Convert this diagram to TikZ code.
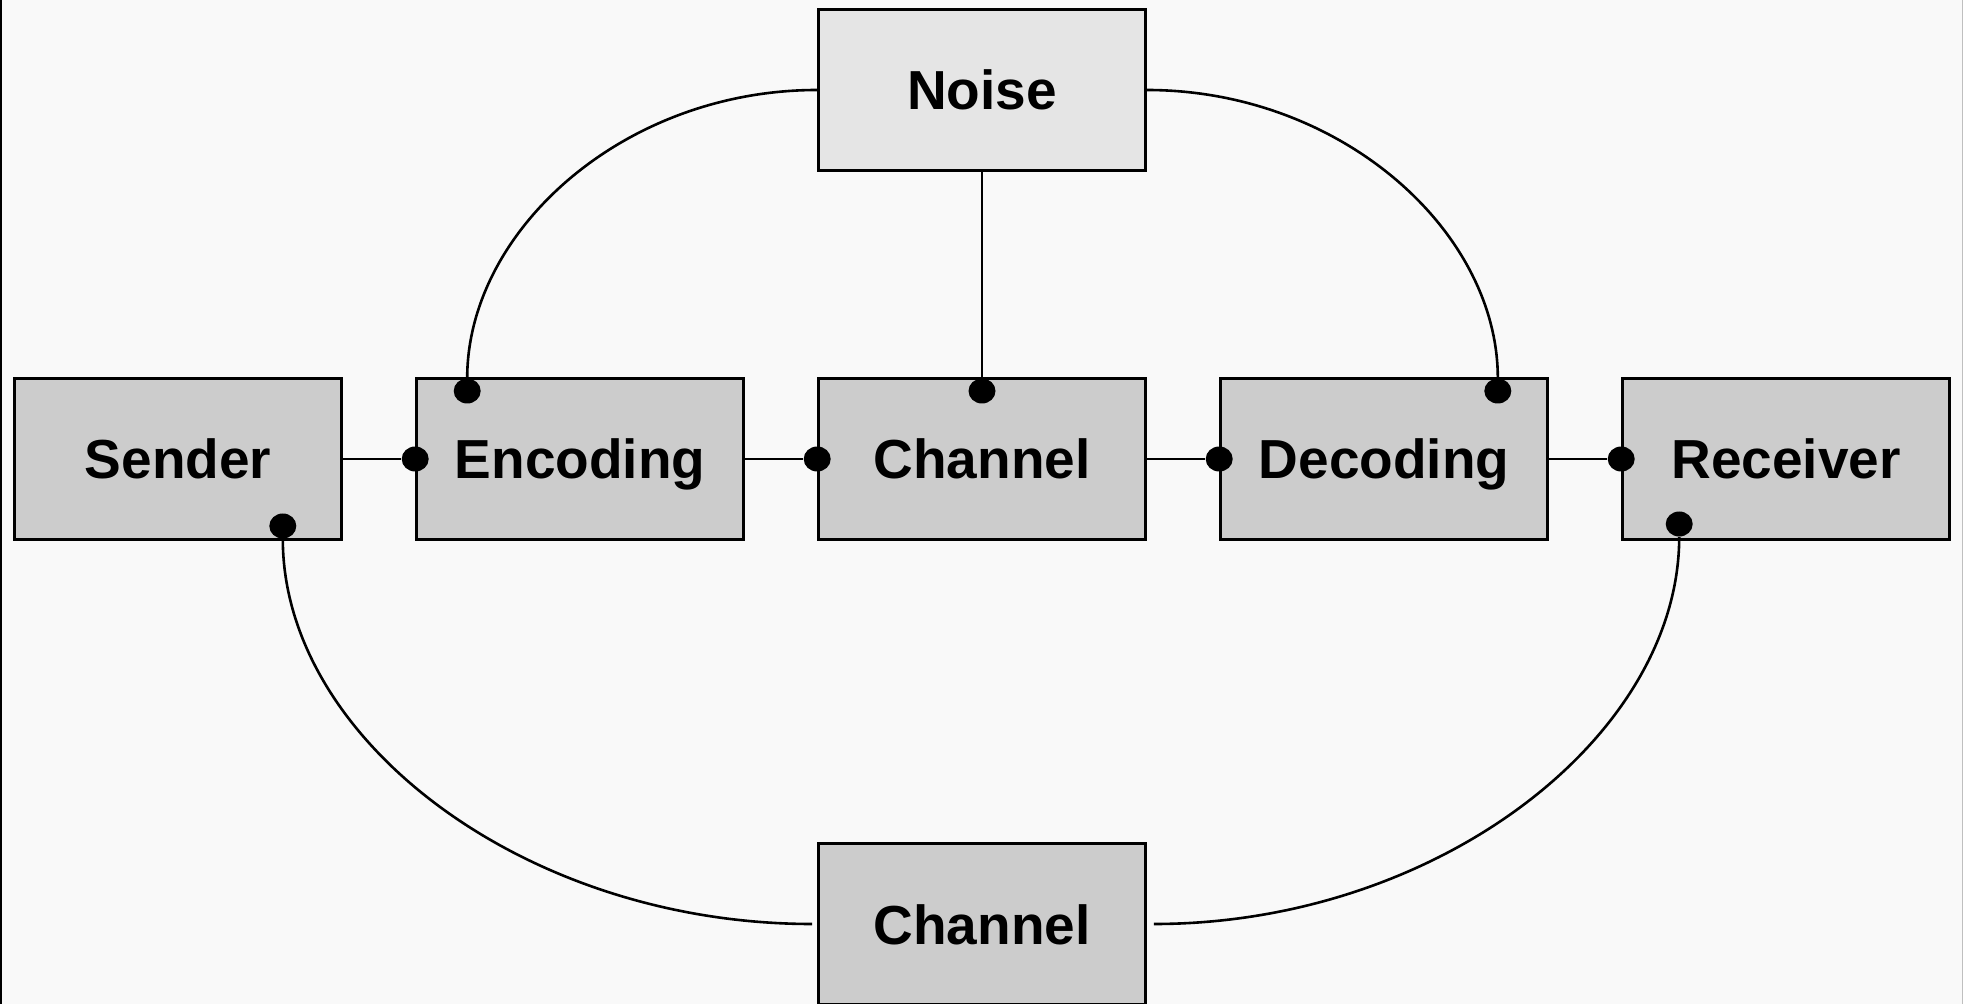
\documentclass[tikz,border=0pt]{standalone}
\usepackage{fontspec}
\setmainfont{Liberation Sans}
\usepackage{xcolor}
\definecolor{Paper}{HTML}{F9F9F9}
\definecolor{Box Grey}{HTML}{CCCCCC}
\definecolor{Noise Grey}{HTML}{E5E5E5}
\colorlet{cPaper}{Paper}
\colorlet{cBox}{Box Grey}
\colorlet{cNoise}{Noise Grey}
\usepackage{tikz}
\usetikzlibrary{calc, arrows.meta, shapes.geometric, positioning}
\tikzset{
	node distance = 36.2pt,
	line width = 1.3pt,
	font = \fontsize{27.5}{33}\selectfont\bfseries,
	block/.style={
		draw,
		rectangle,
		line width=1.3pt,
		fill=cBox,
		minimum width=163.5pt,
		minimum height=80.7pt,
		text height=20pt,
		text depth=0pt,
		inner sep=0pt
	},
	dot/.style={
		ellipse,
		fill,
		minimum width=13.5pt,
		minimum height=12.5pt,
		inner sep=0pt
	},
	link/.style={
		line width=1.3pt
	}
}

\begin{document}
\begin{tikzpicture}
		\fill[cPaper] (0,0) rectangle (981.5pt,-502pt);
\useasboundingbox (0,0) rectangle (981.5pt,-502pt);
\draw[line width=1.25pt] (0.6pt,0) -- (0.6pt,-502pt);
\draw[line width=.5pt, black!25] (981.25pt,0) -- (981.25pt,-502pt);

% ---
% main row
% ---
\node[block] at (89pt,-229.5pt) (snd) {Sender};
\node[block, right=of snd] (enc) {Encoding};
\node[block, right=of enc] (chan) {Channel};
\node[block, right=of chan] (dec) {Decoding};
\node[block, right=of dec] (rcv) {Receiver};

% ---
% noise and lower channel
% ---
\node[block, above=102.5pt of chan, fill=cNoise] (noise) {Noise};
\node[block, below=150.5pt of chan] (chan-b) {Channel};

% ---
% dots
% ---
\node[dot] at (enc.west) (enc-in) {};
\node[dot] at (chan.west) (chan-in) {};
\node[dot] at (dec.west) (dec-in) {};
\node[dot] at (rcv.west) (rcv-in) {};
\node[dot] at ([shift={(26pt,-7pt)}]enc.north west) (enc-top) {};
\node[dot] at ([shift={(0pt,-7pt)}]chan.north) (chan-top) {};
\node[dot] at ([shift={(-25.5pt,-7pt)}]dec.north east) (dec-top) {};
\node[dot] at ([shift={(-30pt,7.5pt)}]snd.south east) (snd-bot) {};
\node[dot] at ([shift={(29pt,8.5pt)}]rcv.south west) (rcv-bot) {};

\draw[link] (snd) -- (enc-in);
\draw[link] (enc) -- (chan-in);
\draw[link] (chan) -- (dec-in);
\draw[link] (dec) -- (rcv-in);
\draw[link] (noise) -- (chan-top);
\draw[link] (noise.west) .. controls +(-97pt,0) and +(0,80pt) .. (enc-top);
\draw[link] (noise.east) .. controls +(97pt,0) and +(0,80pt) .. (dec-top);
\draw[link, shorten >=2.5pt] (snd-bot) .. controls +(0,-107pt) and +(-146pt,0) .. (chan-b.west);
\draw[link, shorten >=3.5pt] (rcv-bot) .. controls +(0,-106.5pt) and +(145pt,0) .. (chan-b.east);
	\end{tikzpicture}
\end{document}
